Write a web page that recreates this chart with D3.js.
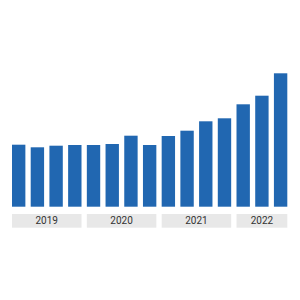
<!DOCTYPE html>
<html>
<head>
<meta charset="utf-8">
<script src="https://cdn.jsdelivr.net/npm/d3@7"></script>
<style>
  body { margin: 0; background: #fff; }
  svg { display: block; }
</style>
</head>
<body>
<div id="chart"></div>
<script>
// quarterly values, 2019 Q1 .. 2022 Q3 (no axis in the picture, read as relative heights)
var quarters = ["2019Q1","2019Q2","2019Q3","2019Q4","2020Q1","2020Q2","2020Q3","2020Q4",
                "2021Q1","2021Q2","2021Q3","2021Q4","2022Q1","2022Q2","2022Q3"];
var values = [62, 59.4, 61, 61.7, 61.7, 62.7, 71, 61.7, 70.7, 76, 85.4, 88.4, 102.4, 111, 133.4];
var years = ["2019", "2020", "2021", "2022"];
var yearOf = quarters.map(function(q) { return q.slice(0, 4); });

var width = 300, height = 300;
var margin = {left: 12, right: 12.7, top: 73.3, bottom: 93.3};

var svg = d3.select("#chart")
  .append("svg")
    .attr("width", width)
    .attr("height", height);

var x = d3.scaleBand()
  .domain(quarters)
  .range([margin.left, width - margin.right])
  .paddingInner(0.285)
  .paddingOuter(0);

var y = d3.scaleLinear()
  .domain([0, d3.max(values)])
  .range([height - margin.bottom, margin.top]);

// bars
svg.append("g")
  .selectAll("rect")
  .data(values)
  .enter()
  .append("rect")
    .attr("x", function(d, i) { return x(quarters[i]); })
    .attr("y", function(d) { return y(d); })
    .attr("width", x.bandwidth())
    .attr("height", function(d) { return y(0) - y(d); })
    .attr("fill", "#2167b1");

// year boxes under the bars
var boxTop = height - margin.bottom + 7.3, boxH = 13.7;
var yearG = svg.append("g")
  .selectAll("g")
  .data(years)
  .enter()
  .append("g");

function yearSpan(yr) {
  var qs = quarters.filter(function(q, i) { return yearOf[i] == yr; });
  var x0 = x(qs[0]);
  var x1 = x(qs[qs.length - 1]) + x.bandwidth();
  return [x0, x1];
}

yearG.append("rect")
  .attr("x", function(d) { return yearSpan(d)[0]; })
  .attr("y", boxTop)
  .attr("width", function(d) { var s = yearSpan(d); return s[1] - s[0]; })
  .attr("height", boxH)
  .attr("fill", "#e8e8e8");

yearG.append("text")
  .attr("x", function(d) { var s = yearSpan(d); return (s[0] + s[1]) / 2; })
  .attr("y", boxTop + boxH / 2)
  .attr("dy", "0.35em")
  .attr("text-anchor", "middle")
  .style("font-family", "Roboto, sans-serif")
  .style("font-size", "10px")
  .style("fill", "#333")
  .text(function(d) { return d; });
</script>
</body>
</html>
